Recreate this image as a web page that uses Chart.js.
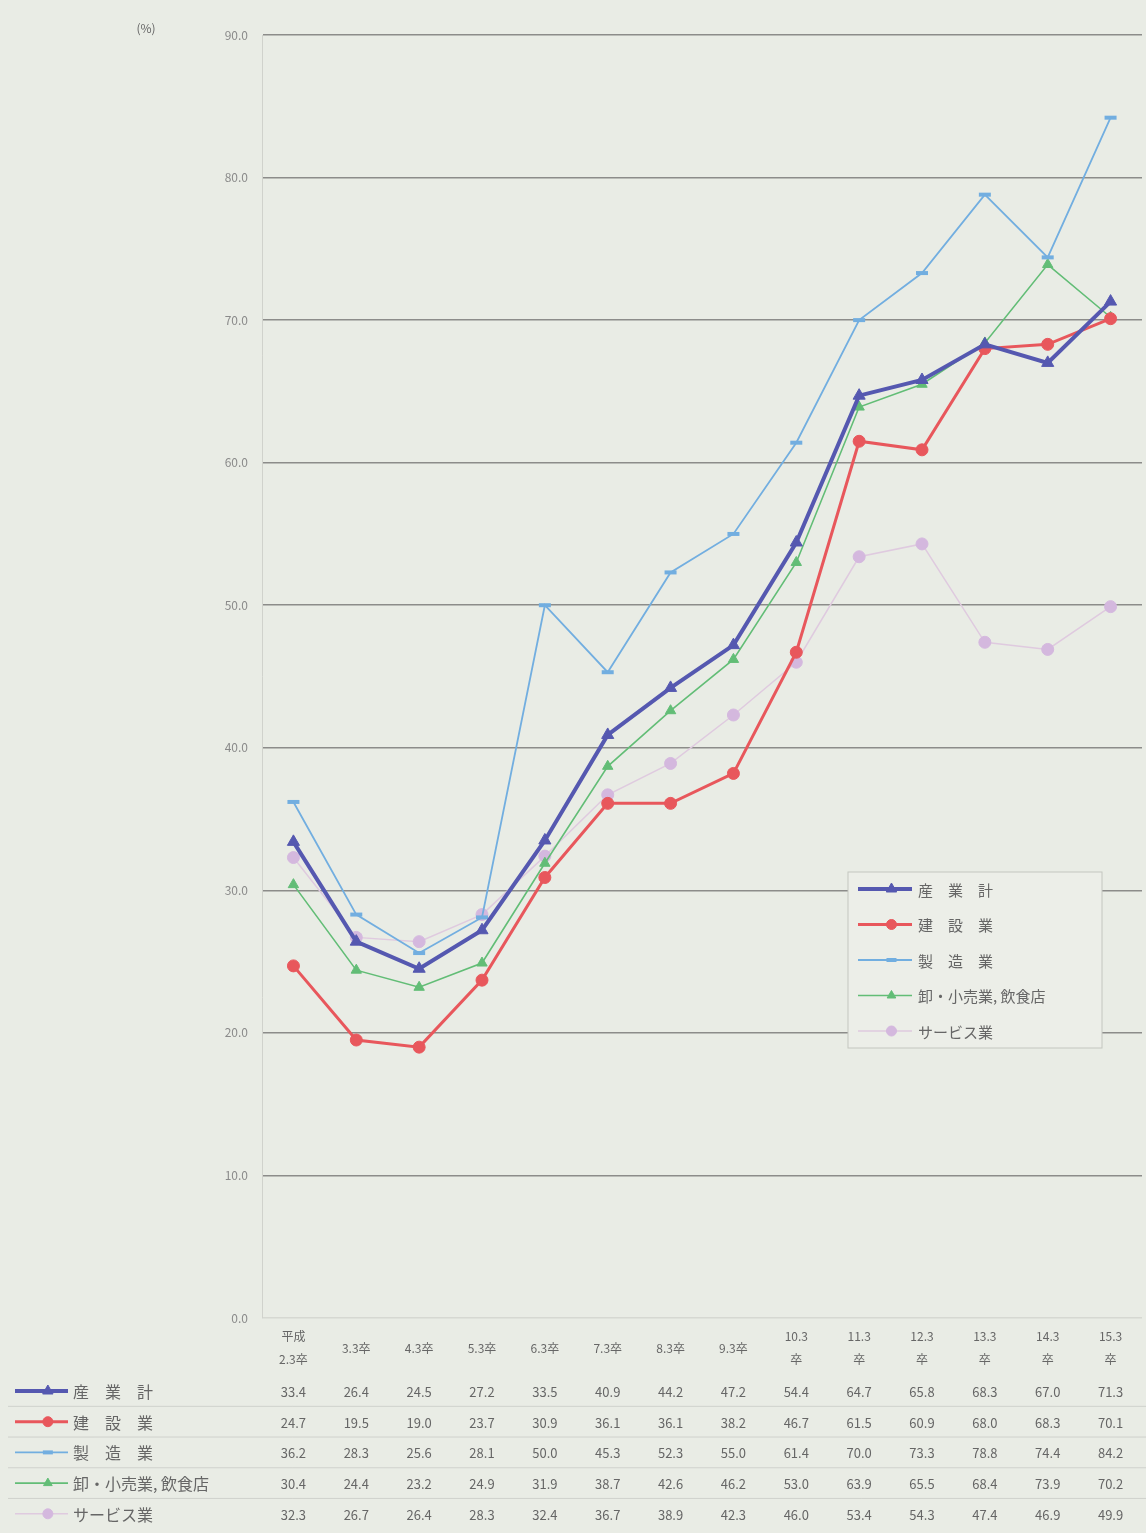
<!DOCTYPE html>
<html>
<head>
<meta charset="utf-8">
<script src="https://cdn.jsdelivr.net/npm/chart.js@4.4.1/dist/chart.umd.min.js"></script>
<style>
  html, body { margin: 0; padding: 0; background: #e9ece5; overflow: hidden; }
  #wrap { width: 1146px; height: 1533px; overflow: hidden; }
</style>
</head>
<body>
<div id="wrap"><canvas id="myChart" width="1152" height="1533"></canvas></div>
<script>
// categories (two-line header labels)
var categories = [
	['平成', '2.3卒'], '3.3卒', '4.3卒', '5.3卒', '6.3卒', '7.3卒', '8.3卒', '9.3卒',
	['10.3', '卒'], ['11.3', '卒'], ['12.3', '卒'], ['13.3', '卒'], ['14.3', '卒'], ['15.3', '卒']
];

// series names
var seriesNames = ['産　業　計', '建　設　業', '製　造　業', '卸・小売業, 飲食店', 'サービス業'];

// series values (%)
var total        = [33.4, 26.4, 24.5, 27.2, 33.5, 40.9, 44.2, 47.2, 54.4, 64.7, 65.8, 68.3, 67.0, 71.3];
var construction = [24.7, 19.5, 19.0, 23.7, 30.9, 36.1, 36.1, 38.2, 46.7, 61.5, 60.9, 68.0, 68.3, 70.1];
var manufacture  = [36.2, 28.3, 25.6, 28.1, 50.0, 45.3, 52.3, 55.0, 61.4, 70.0, 73.3, 78.8, 74.4, 84.2];
var retail       = [30.4, 24.4, 23.2, 24.9, 31.9, 38.7, 42.6, 46.2, 53.0, 63.9, 65.5, 68.4, 73.9, 70.2];
var service      = [32.3, 26.7, 26.4, 28.3, 32.4, 36.7, 38.9, 42.3, 46.0, 53.4, 54.3, 47.4, 46.9, 49.9];

// y axis range / tick step
var yMin = 0, yMax = 90, yStep = 10;

var FONT = '"Noto Sans CJK JP", "Noto Sans", sans-serif';
var TEXT = '#666666';

var canvas = document.getElementById('myChart');

// legend key: line + marker, in the dataset's own style
function sample(c, ds, x1, x2, y) {
	c.save();
	c.strokeStyle = ds.borderColor;
	c.lineWidth = ds.borderWidth;
	c.beginPath();
	c.moveTo(x1, y);
	c.lineTo(x2, y);
	c.stroke();
	c.fillStyle = ds.pointBackgroundColor;
	c.strokeStyle = ds.pointBorderColor;
	c.lineWidth = ds.pointBorderWidth;
	Chart.helpers.drawPoint(c, {
		pointStyle: ds.pointStyle,
		radius: ds.pointRadius - 1,
		borderWidth: ds.pointBorderWidth,
		rotation: 0
	}, x1 + (x2 - x1) * 0.62, y);
	c.restore();
}

// data table + header + unit + inner legend
var tablePlugin = {
	id: 'dataTable',
	afterDraw: function (chart) {
		var c = chart.ctx;
		var xs = chart.scales.x;
		var area = chart.chartArea;
		var sets = chart.data.datasets;

		c.save();
		// unit label
		c.fillStyle = TEXT;
		c.font = '12px ' + FONT;
		c.textAlign = 'center';
		c.textBaseline = 'middle';
		c.fillText('(%)', 146, 28);

		// header row
		var headY = area.bottom + 30;
		c.font = '12px ' + FONT;
		for (var i = 0; i < categories.length; i++) {
			var px = xs.getPixelForValue(i);
			var lab = categories[i];
			if (Array.isArray(lab)) {
				c.fillText(lab[0], px, headY - 12);
				c.fillText(lab[1], px, headY + 11);
			} else {
				c.fillText(lab, px, headY);
			}
		}

		// faint row separators
		var rowY0 = area.bottom + 73;
		var rowH = 30.7;
		c.strokeStyle = 'rgba(150,150,150,0.3)';
		c.lineWidth = 1;
		for (var r = 1; r < sets.length; r++) {
			var ly = rowY0 + (r - 0.5) * rowH;
			c.beginPath();
			c.moveTo(8, ly);
			c.lineTo(1146, ly);
			c.stroke();
		}

		// value rows with their legend keys
		for (var r = 0; r < sets.length; r++) {
			var ds = sets[r];
			var ry = rowY0 + r * rowH;
			sample(c, ds, 15, 68, ry);
			c.fillStyle = TEXT;
			c.textAlign = 'left';
			c.font = '16px ' + FONT;
			c.fillText(ds.label, 73, ry + 1);
			c.textAlign = 'center';
			c.font = '13px ' + FONT;
			for (var i = 0; i < ds.data.length; i++) {
				c.fillText(ds.data[i].toFixed(1), xs.getPixelForValue(i), ry + 1);
			}
		}

		// legend box inside the plot
		var bx = 848, by = 872, bw = 254, bh = 176;
		c.fillStyle = '#eceee8';
		c.fillRect(bx, by, bw, bh);
		c.strokeStyle = '#c4c6c0';
		c.lineWidth = 1;
		c.strokeRect(bx, by, bw, bh);
		for (var r = 0; r < sets.length; r++) {
			var ly = by + 17 + r * 35.5;
			sample(c, sets[r], 858, 912, ly);
			c.fillStyle = TEXT;
			c.textAlign = 'left';
			c.font = '15px ' + FONT;
			c.fillText(sets[r].label, 918, ly + 1);
		}
		c.restore();
	}
};

function makeSet(label, values, color, width, style, radius, pointColor, pointBorder) {
	return {
		label: label,
		data: values,
		borderColor: color,
		backgroundColor: color,
		borderWidth: width,
		pointStyle: style,
		pointRadius: radius,
		pointHoverRadius: radius,
		pointBackgroundColor: pointColor || color,
		pointBorderColor: pointColor || color,
		pointBorderWidth: pointBorder || 1,
		tension: 0,
		fill: false
	};
}

var data = {
	labels: categories,
	datasets: [
		makeSet(seriesNames[0], total, '#5558b0', 4, 'triangle', 7),
		makeSet(seriesNames[1], construction, '#e8575c', 3, 'circle', 6),
		makeSet(seriesNames[2], manufacture, '#72aee0', 1.8, 'line', 6, '#72aee0', 4),
		makeSet(seriesNames[3], retail, '#62bd76', 1.6, 'triangle', 6),
		makeSet(seriesNames[4], service, '#dfcadf', 1.5, 'circle', 6, '#d4b8de')
	]
};

var myLineChart = new Chart(canvas, {
	type: 'line',
	data: data,
	plugins: [tablePlugin],
	options: {
		responsive: false,
		animation: false,
		layout: { padding: { top: 35, right: 2, left: 0, bottom: 0 } },
		plugins: {
			legend: { display: false },
			tooltip: { enabled: false }
		},
		scales: {
			x: {
				type: 'category',
				offset: true,
				grid: { display: false },
				border: { display: false },
				ticks: { display: false },
				afterFit: function (scale) { scale.height = 215; }
			},
			y: {
				min: yMin,
				max: yMax,
				ticks: {
					stepSize: yStep,
					padding: 14,
					color: '#8a8a8a',
					font: { family: FONT, size: 12 },
					callback: function (v) { return v.toFixed(1); }
				},
				grid: {
					drawTicks: false,
					lineWidth: 1.5,
					color: function (c) { return c.tick.value === 0 ? '#d6d8d2' : '#8c8c8a'; }
				},
				border: { display: true, color: '#d0d2cc', width: 1 },
				afterFit: function (scale) { scale.width = 262; }
			}
		}
	}
});
</script>
</body>
</html>
